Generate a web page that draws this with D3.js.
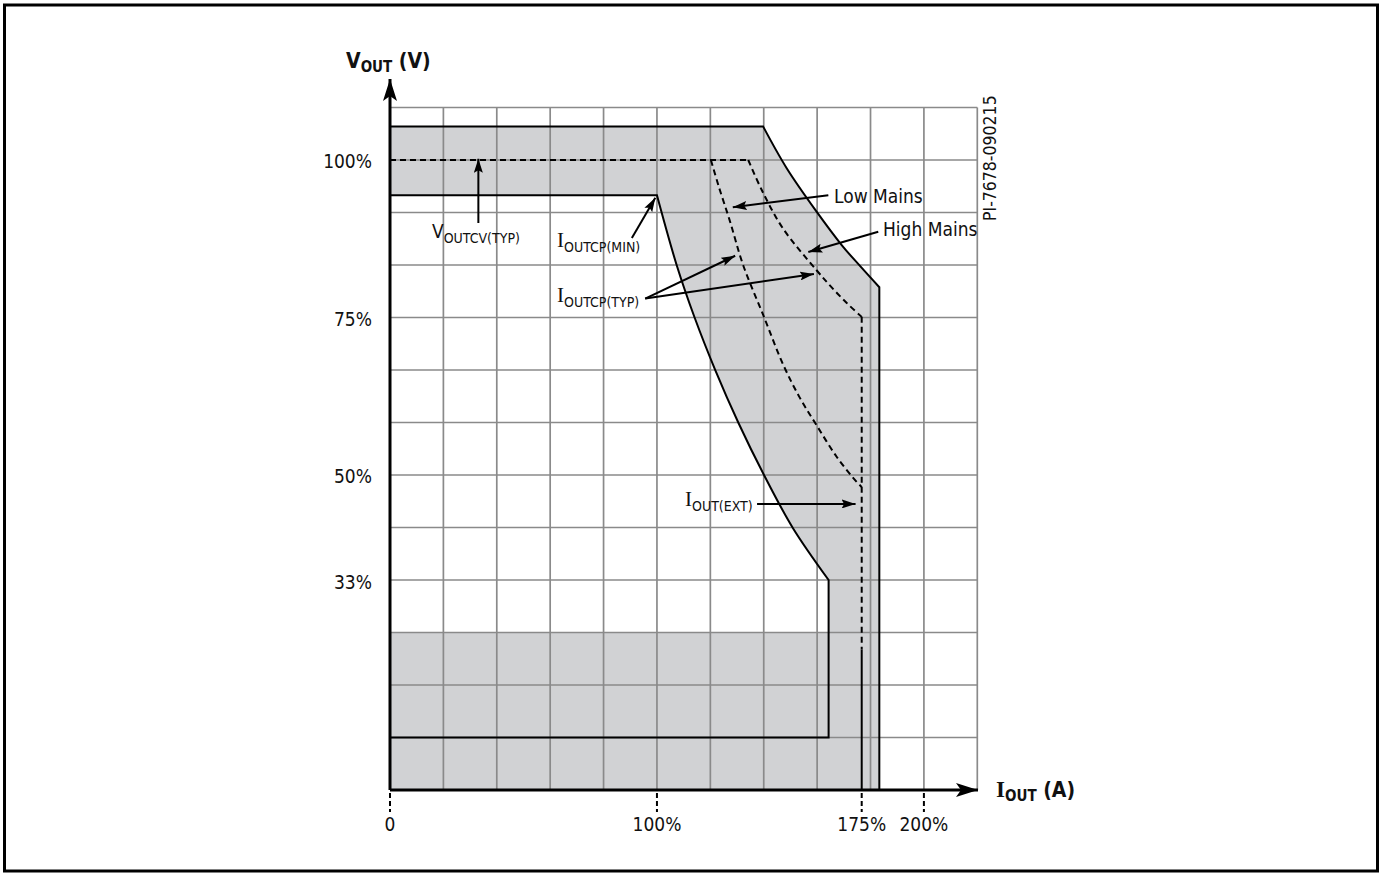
<!DOCTYPE html>
<html>
<head>
<meta charset="utf-8">
<script src="https://cdn.jsdelivr.net/npm/d3@7"></script>
<style>
  html, body { margin: 0; padding: 0; background: #fff; }
  svg { display: block; }
  text { font-family: "DejaVu Sans", sans-serif; font-stretch: condensed; fill: #111; }
</style>
</head>
<body>
<svg id="chart" width="1381" height="873"></svg>
<script>
// ---------- data ----------
const xGrid = [0, 20, 40, 60, 80, 100, 120, 140, 160, 180, 200, 220];
const yGrid = [0, 8.333, 16.667, 25, 33.333, 41.667, 50, 58.333, 66.667, 75, 83.333, 91.667, 100, 108.333];
const xTicks = [0, 100, 176.7, 200];
const xTickLabels = ["0", "100%", "175%", "200%"];
const yTicks = [100, 75, 50, 33.333];
const yTickLabels = ["100%", "75%", "50%", "33%"];

// outer (max) boundary
const outerTop = [[0, 105.3], [139.8, 105.3]];
const outerCurve = [[139.8, 105.3], [148.6, 98.7], [159.8, 91.8], [169.2, 86.5], [175.8, 83.3], [183.3, 79.8]];
const outerDrop = [[183.3, 79.8], [183.3, 0]];

// inner (min) boundary
const innerTop = [[0, 94.4], [100, 94.4]];
const innerCurve = [[100, 94.4], [107.4, 83.3], [114.1, 75.0], [121.8, 66.7], [130.5, 58.3], [140.1, 50.0], [150.9, 41.6], [164.3, 33.333]];
const innerDrop = [[164.3, 33.333], [164.3, 8.333], [0, 8.333]];
const whiteBottom = [[164.3, 33.333], [164.3, 25], [0, 25]];

// typical curves (dashed)
const typLine = [[0, 100], [134.2, 100]];
const lowMains = [[120.2, 100], [123.0, 96.0], [127.4, 90.2], [132.3, 83.3], [139.8, 75.4], [147.3, 67.5], [153.6, 62.2], [159.8, 57.9], [167.3, 52.9], [174.8, 48.9], [176.7, 48.1]];
const highMains = [[134.2, 100], [139.3, 95.2], [147.1, 89.2], [159.8, 82.5], [165.2, 79.9], [171.1, 77.3], [176.7, 75.1]];
const extDashed = [[176.7, 75.1], [176.7, 22.3]];
const extSolid = [[176.7, 22.3], [176.7, 0]];

// annotation arrows: [tail, tip]
const arrows = [
  [[33.1, 90.0], [33.1, 100.2]],
  [[90.6, 87.6], [99.4, 94.0]],
  [[95.6, 78.0], [129.3, 84.8]],
  [[95.6, 78.0], [158.8, 81.9]],
  [[164.2, 94.4], [128.4, 92.5]],
  [[182.9, 88.6], [156.7, 85.4]],
  [[137.5, 45.4], [174.4, 45.4]]
];

// ---------- drawing ----------
const svg = d3.select("#chart");
const x = d3.scaleLinear().domain([0, 220]).range([390, 977.3]);
const y = d3.scaleLinear().domain([0, 108.333]).range([790, 107.5]);

const lin = d3.line().x(d => x(d[0])).y(d => y(d[1]));
const cur = d3.line().x(d => x(d[0])).y(d => y(d[1])).curve(d3.curveCatmullRom.alpha(0.5));
function join(parts) {
  let s = "";
  parts.forEach((p, i) => {
    let d = (p[1] ? cur : lin)(p[0]);
    if (i > 0) d = "L" + d.slice(1);
    s += d;
  });
  return s;
}

const GRAY = "#d1d2d4";

// frame
svg.append("rect").attr("x", 4.5).attr("y", 5).attr("width", 1373).attr("height", 866)
  .attr("fill", "none").attr("stroke", "#000").attr("stroke-width", 3);

// outer shaded area
svg.append("path")
  .attr("d", join([[outerTop, false], [outerCurve, true], [outerDrop, false]]) + "L" + x(0) + "," + y(0) + "Z")
  .attr("fill", GRAY);
// white (non-shaded) region
svg.append("path")
  .attr("d", join([[innerTop, false], [innerCurve, true], [whiteBottom, false]]) + "Z")
  .attr("fill", "#fff");

// grid
const g = svg.append("g").attr("stroke", "#8a8a8a").attr("stroke-width", 1.7);
xGrid.forEach(v => g.append("line").attr("x1", x(v)).attr("x2", x(v)).attr("y1", y(0)).attr("y2", y(108.333)));
yGrid.forEach(v => g.append("line").attr("x1", x(0)).attr("x2", x(220)).attr("y1", y(v)).attr("y2", y(v)));

// solid boundaries
svg.append("path").attr("d", join([[outerTop, false], [outerCurve, true], [outerDrop, false]]))
  .attr("fill", "none").attr("stroke", "#000").attr("stroke-width", 2);
svg.append("path").attr("d", join([[innerTop, false], [innerCurve, true], [innerDrop, false]]))
  .attr("fill", "none").attr("stroke", "#000").attr("stroke-width", 2);
svg.append("path").attr("d", lin(extSolid)).attr("fill", "none").attr("stroke", "#000").attr("stroke-width", 2);

// dashed typical
const dash = "6,4";
[typLine, lowMains, highMains, extDashed].forEach(pts => {
  svg.append("path").attr("d", cur(pts)).attr("fill", "none").attr("stroke", "#000")
    .attr("stroke-width", 2).attr("stroke-dasharray", dash);
});

// markers
const defs = svg.append("defs");
defs.append("marker").attr("id", "ah").attr("viewBox", "0 0 14 9").attr("refX", 14).attr("refY", 4.5)
  .attr("markerWidth", 14).attr("markerHeight", 9).attr("markerUnits", "userSpaceOnUse").attr("orient", "auto")
  .append("path").attr("d", "M0,0L14,4.5L0,9L2.5,4.5Z").attr("fill", "#000");
defs.append("marker").attr("id", "axh").attr("viewBox", "0 0 22 14").attr("refX", 22).attr("refY", 7)
  .attr("markerWidth", 22).attr("markerHeight", 14).attr("markerUnits", "userSpaceOnUse").attr("orient", "auto")
  .append("path").attr("d", "M0,0L22,7L0,14L5,7Z").attr("fill", "#000");

// axes
svg.append("line").attr("x1", x(0)).attr("y1", y(0)).attr("x2", x(0)).attr("y2", 79)
  .attr("stroke", "#000").attr("stroke-width", 3).attr("marker-end", "url(#axh)");
svg.append("line").attr("x1", x(0)).attr("y1", y(0)).attr("x2", 978).attr("y2", y(0))
  .attr("stroke", "#000").attr("stroke-width", 3).attr("marker-end", "url(#axh)");

// x ticks (dashed)
xTicks.forEach((v, i) => {
  svg.append("line").attr("x1", x(v)).attr("x2", x(v)).attr("y1", y(0) + 3).attr("y2", y(0) + 22)
    .attr("stroke", "#000").attr("stroke-width", 2).attr("stroke-dasharray", "5,3");
  svg.append("text").attr("x", x(v)).attr("y", y(0) + 41).attr("text-anchor", "middle")
    .attr("font-size", 19).text(xTickLabels[i]);
});
yTicks.forEach((v, i) => {
  svg.append("text").attr("x", 372).attr("y", y(v) + 8.5).attr("text-anchor", "end")
    .attr("font-size", 19).text(yTickLabels[i]);
});

// axis titles
const vt = svg.append("text").attr("x", 346).attr("y", 68).attr("font-weight", "bold").attr("font-size", 21);
vt.append("tspan").text("V");
vt.append("tspan").attr("font-size", 15).attr("dy", 4).text("OUT");
vt.append("tspan").attr("dy", -4).text(" (V)");
const it = svg.append("text").attr("x", 996).attr("y", 797).attr("font-weight", "bold").attr("font-size", 21);
it.append("tspan").attr("font-family", "Liberation Serif, serif").attr("font-size", 23).text("I");
it.append("tspan").attr("font-size", 15).attr("dy", 4).text("OUT");
it.append("tspan").attr("dy", -4).text(" (A)");

// arrows
arrows.forEach(a => {
  svg.append("line").attr("x1", x(a[0][0])).attr("y1", y(a[0][1])).attr("x2", x(a[1][0])).attr("y2", y(a[1][1]))
    .attr("stroke", "#000").attr("stroke-width", 2).attr("marker-end", "url(#ah)");
});

// annotation labels
function subLabel(px, py, main, sub, serif) {
  const t = svg.append("text").attr("x", px).attr("y", py).attr("font-size", 19);
  const m = t.append("tspan").text(main);
  if (serif) m.attr("font-family", "Liberation Serif, serif").attr("font-size", 21);
  t.append("tspan").attr("font-size", 14).attr("dy", 5).text(sub);
}
subLabel(432, 238, "V", "OUTCV(TYP)", false);
subLabel(557, 247, "I", "OUTCP(MIN)", true);
subLabel(557, 302, "I", "OUTCP(TYP)", true);
subLabel(685, 506, "I", "OUT(EXT)", true);
svg.append("text").attr("x", 834).attr("y", 203).attr("font-size", 19).text("Low Mains");
svg.append("text").attr("x", 883).attr("y", 236).attr("font-size", 19).text("High Mains");

svg.append("text").attr("transform", "translate(996,221) rotate(-90)").attr("font-size", 17.5).text("PI-7678-090215");
</script>
</body>
</html>
